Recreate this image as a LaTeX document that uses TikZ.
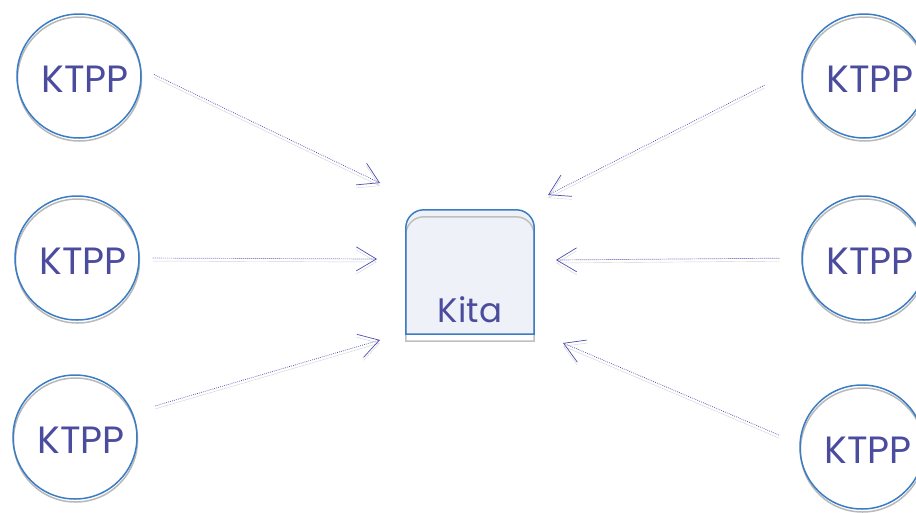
\documentclass[tikz,border=0pt]{standalone}
\usepackage{fontspec}
\setmainfont{Poppins}
\usetikzlibrary{arrows.meta,backgrounds}
\definecolor{ringblue}{HTML}{3B7DC4}
\definecolor{textblue}{HTML}{4B4C9E}
\definecolor{arrowblue}{HTML}{4C4DB0}
\definecolor{kitafill}{HTML}{EEF2F8}
\tikzset{
    ktpp/.style     = { circle, draw=ringblue, line width=1.5pt, minimum size=124pt,
	inner sep=0pt, text=textblue, font=\fontsize{38}{38}\selectfont,
	text height=32pt, text depth=0pt, execute at begin node=\hspace*{12pt},
	preaction={draw=black!28, line width=1.5pt, transform canvas={shift={(0.5pt,-3pt)}}} },
	link/.style     = { draw=arrowblue, line width=0.7pt, dash pattern=on 0.8pt off 1.2pt,
	-{Straight Barb[length=20pt,width=24pt]},
	preaction={draw=black!18, transform canvas={yshift=-3pt}} },
	kitabox/.style  = { rectangle, minimum width=128pt, inner sep=0pt, text=textblue,
	text height=112pt, text depth=12pt, font=\fontsize{34}{34}\selectfont },
}
\newcommand\kitaoutline{(kita.south west) [rounded corners=18pt] -- (kita.north west)
	-- (kita.north east) [sharp corners] -- (kita.south east) -- cycle}

\begin{document}
\begin{tikzpicture}[x=1pt,y=-1pt]
	\useasboundingbox (0,0) rectangle (916,512);
	% KTPP left
	\node (k1) [ktpp] at (79,76) {KTPP};
	\node (k2) [ktpp] at (77,258) {KTPP};
	\node (k3) [ktpp] at (75,437) {KTPP};
	% KTPP right
	\node (k4) [ktpp] at (864,76) {KTPP};
	\node (k5) [ktpp] at (864,258) {KTPP};
	\node (k6) [ktpp] at (862,447) {KTPP};
	% Kita
	\node (kita) [kitabox] at (470,272) {Kita};
	\begin{pgfonlayer}{background}
		\fill[kitafill] \kitaoutline;
		\draw[black!25, line width=1.5pt, transform canvas={yshift=-7pt}] \kitaoutline;
		\draw[ringblue, line width=1.5pt] \kitaoutline;
	\end{pgfonlayer}
	% arrow ends
	\coordinate (t1) at (380,183);
	\coordinate (t2) at (377,259);
	\coordinate (t3) at (380,340);
	\coordinate (t4) at (548,195);
	\coordinate (t5) at (556,260);
	\coordinate (t6) at (563,343);
	\draw[link, shorten <=14pt] (k1.7) -- (t1);
	\draw[link, shorten <=13pt] (k2.east) -- (t2);
	\draw[link, shorten <=23pt] (k3.23) -- (t3);
	\draw[link, shorten <=42pt] (k4.171) -- (t4);
	\draw[link, shorten <=22pt] (k5.west) -- (t5);
	\draw[link, shorten <=22pt] (k6.177) -- (t6);
\end{tikzpicture}
\end{document}
